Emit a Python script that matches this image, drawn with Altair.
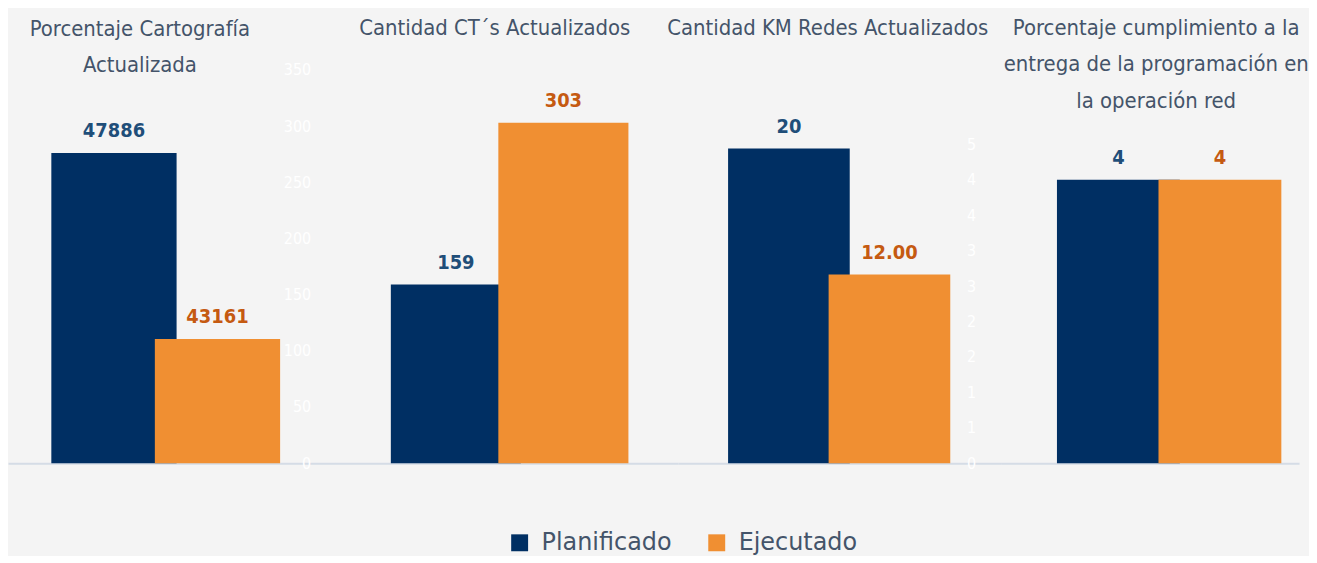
import altair as alt
import pandas as pd

# ---------------- data ----------------
title_lines = [
    ["Porcentaje Cartografía", "Actualizada"],
    ["Cantidad CT´s Actualizados"],
    ["Cantidad KM Redes Actualizados"],
    ["Porcentaje cumplimiento a la", "entrega de la programación en", "la  operación red"],
]
series = ["Planificado", "Ejecutado"]
planificado = [47886, 159, 20, 4]
ejecutado = [43161, 303, 12, 4]
plan_labels = ["47886", "159", "20", "4"]
ejec_labels = ["43161", "303", "12.00", "4"]
y_domains = [[40000, 50000], [0, 350], [0, 25], [0, 5.55]]
axis2_ticks = [0, 50, 100, 150, 200, 250, 300, 350]
axis4_ticks = [0, 0.5, 1, 1.5, 2, 2.5, 3, 3.5, 4, 4.5]

# ---------------- style / layout ----------------
NAVY = "#002f63"
ORANGE = "#f08f32"
LBL_BLUE = "#1f4e79"
LBL_ORANGE = "#c55a11"
TXT = "#44546a"
COND = "DejaVu Sans Condensed, sans-serif"

widths = [329, 344, 325, 299]
pad_outer = [0.5817, 0.5926, 0.6089, 0.4657]
aligns = [0.450, 0.523, 0.496, 0.70]
title_dx = [-32, -12, -12, 6]
title_offset = [-24, 5, 13, -60]
PLOT_H = 395


def panel(i):
    df = pd.DataFrame({
        "serie": series,
        "valor": [planificado[i], ejecutado[i]],
        "etiqueta": [plan_labels[i], ejec_labels[i]],
    })
    d0, d1 = y_domains[i]
    x = alt.X(
        "serie:N", sort=series,
        scale=alt.Scale(paddingInner=0, paddingOuter=pad_outer[i], align=aligns[i]),
        axis=alt.Axis(labels=False, ticks=False, title=None, domainColor="#d5dce6", domainWidth=2),
    )
    if i == 1:
        yaxis = alt.Axis(values=axis2_ticks, title=None, domain=False, ticks=False, tickSize=0, grid=False,
                         labelColor="#ffffff", labelFont=COND, labelFontSize=16, labelPadding=25)
    elif i == 3:
        yaxis = alt.Axis(values=axis4_ticks, format=".0f", title=None, domain=False, ticks=False, tickSize=0,
                         grid=False, labelColor="#ffffff", labelFont=COND, labelFontSize=16, labelPadding=26)
    else:
        yaxis = None
    y = alt.Y("valor:Q", scale=alt.Scale(domain=[d0, d1], zero=False, nice=False), axis=yaxis)
    base = alt.Chart(df)
    bars = base.mark_bar(width=alt.RelativeBandSize(band=1.21)).encode(
        x=x, y=y, y2=alt.datum(d0),
        color=alt.Color(
            "serie:N", sort=series,
            scale=alt.Scale(domain=series, range=[NAVY, ORANGE]),
            legend=alt.Legend(title=None, orient="none", direction="horizontal", legendX=502, legendY=463,
                              symbolType="square", symbolSize=289, symbolStrokeWidth=0,
                              labelFont="DejaVu Sans", labelFontSize=24, labelColor=TXT,
                              labelOffset=10, columnPadding=33, padding=0),
        ),
    )
    labels = base.mark_text(font=COND, fontSize=20, fontWeight="bold", baseline="alphabetic", dy=-16).encode(
        x=x, y=y, text="etiqueta:N",
        color=alt.condition("datum.serie == 'Planificado'", alt.value(LBL_BLUE), alt.value(LBL_ORANGE)),
    )
    return alt.layer(bars, labels).properties(
        width=widths[i], height=PLOT_H,
        title=alt.TitleParams(text=title_lines[i], anchor="middle", frame="group", offset=title_offset[i],
                              dx=title_dx[i], baseline="alphabetic", font=COND, fontSize=22,
                              fontWeight="normal", color=TXT, lineHeight=36.5),
    )


chart = alt.hconcat(*[panel(i) for i in range(4)], spacing=0, bounds="flush").resolve_scale(
    color="shared", x="independent", y="independent"
).resolve_legend(color="shared").properties(
    padding={"left": 0, "top": 8, "right": 0, "bottom": 0},
    background="#f4f4f4",
).configure_view(strokeWidth=0)

chart.save("out.html", embed_options={"renderer": "svg", "actions": False})
